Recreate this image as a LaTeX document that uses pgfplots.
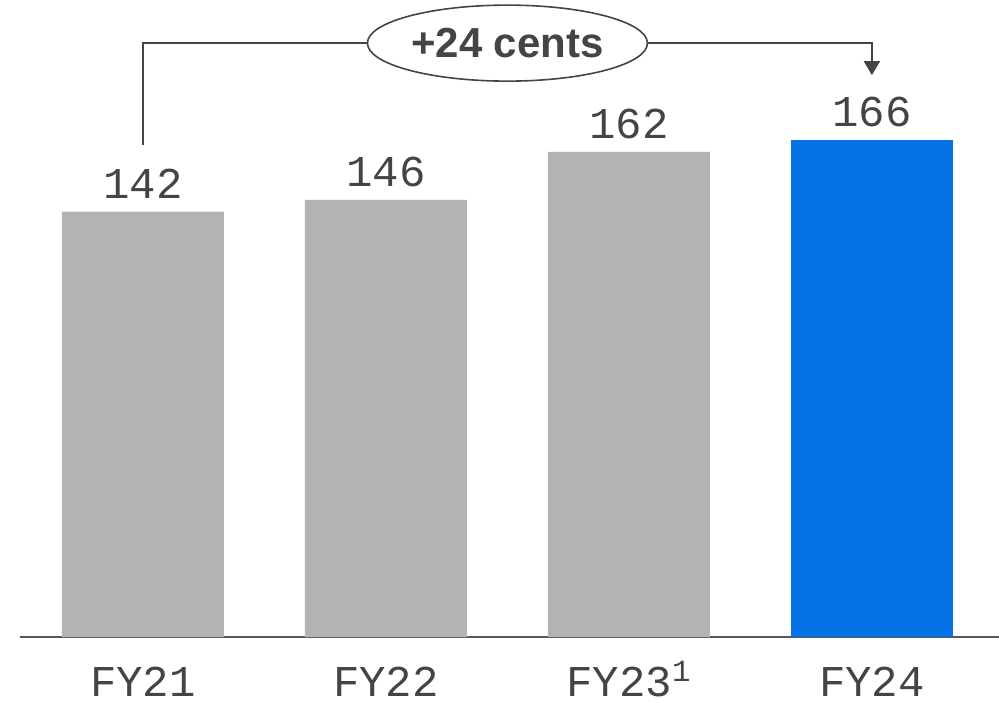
\documentclass[border=0pt]{standalone}
\usepackage{fontspec}
\setmainfont{Liberation Mono}
\newfontfamily\labelsans{Liberation Sans}
\usepackage{pgfplots}
\pgfplotsset{compat=1.18}
\usetikzlibrary{arrows.meta,shapes.geometric}
\definecolor{BarGray}{HTML}{B3B3B3}
\definecolor{BarBlue}{HTML}{0573E6}
\definecolor{InkGray}{HTML}{444444}

\begin{document}
\begin{tikzpicture}
\begin{axis}[
    at={(10pt,32.5pt)}, anchor=south west,
    scale only axis,
    width=489.5pt, height=318.5pt,
    xmin=-0.506, xmax=3.523,
    ymin=0, ymax=212.7,
    ybar, bar width=81pt, bar shift=0pt,
    axis x line=bottom, axis y line=none,
    x axis line style={-, draw=InkGray!90, line width=0.8pt},
    xtick={0,1,2,3},
    xticklabels={FY21,FY22,FY23\textsuperscript{1},FY24},
    xticklabel style={font=\fontsize{22}{24}\selectfont, text=InkGray,
                      text height=16pt, text depth=0pt, yshift=-10pt},
    major tick length=0pt,
    /pgf/number format/assume math mode=true,
    nodes near coords,
    every node near coord/.append style={font=\fontsize{22}{24}\selectfont, text=InkGray, anchor=south, yshift=3pt},
    clip=false,
]
\addplot[fill=BarGray, draw=none] coordinates {(0,142) (1,146) (2,162)};
\addplot[fill=BarBlue, draw=none] coordinates {(3,166)};

\draw[InkGray, line width=1pt] (axis cs:0,164.3) |- (axis cs:1.5,198.3);
\draw[InkGray, line width=1pt, -{Triangle[length=7pt,width=8pt]}] (axis cs:1.5,198.3) -| (axis cs:3,187.6);
\node[draw=InkGray, line width=0.8pt, fill=white, ellipse, minimum width=140pt, minimum height=38pt, inner sep=0pt,
      font=\labelsans\bfseries\fontsize{21}{23}\selectfont, text=InkGray]
  at (axis cs:1.5,198.3) {+24 cents};
\end{axis}
\pgfresetboundingbox
\path (0,0) rectangle (499.5pt,351pt);
\end{tikzpicture}
\end{document}
